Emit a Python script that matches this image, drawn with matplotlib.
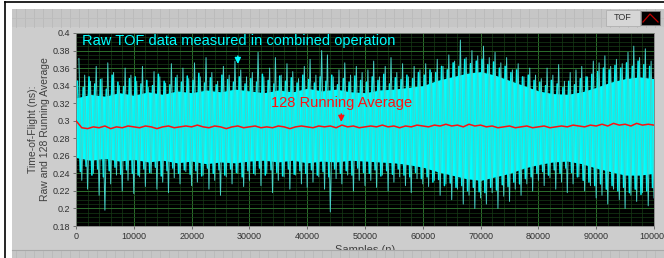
import numpy as np
import matplotlib
matplotlib.use("Agg")
import matplotlib.pyplot as plt
from matplotlib.patches import Rectangle
from matplotlib.lines import Line2D
from matplotlib.ticker import MultipleLocator, FuncFormatter

# ---------------- data ----------------
env_x = np.arange(0, 100001, 2500)
core_hi = [0.326, 0.330, 0.328, 0.332, 0.329, 0.333, 0.330, 0.334, 0.332, 0.335,
           0.333, 0.336, 0.334, 0.332, 0.335, 0.333, 0.337, 0.334, 0.336, 0.333,
           0.332, 0.335, 0.336, 0.338, 0.340, 0.346, 0.350, 0.354, 0.356, 0.352,
           0.346, 0.340, 0.334, 0.331, 0.330, 0.333, 0.338, 0.344, 0.348, 0.350, 0.348]
core_lo = [0.258, 0.255, 0.257, 0.254, 0.256, 0.253, 0.255, 0.252, 0.254, 0.251,
           0.253, 0.252, 0.254, 0.255, 0.253, 0.255, 0.252, 0.254, 0.253, 0.255,
           0.254, 0.253, 0.252, 0.250, 0.247, 0.242, 0.238, 0.234, 0.232, 0.236,
           0.240, 0.246, 0.250, 0.253, 0.254, 0.251, 0.246, 0.242, 0.238, 0.238, 0.240]

# tall spikes of the raw data
raw_hi = [0.371, 0.352, 0.345, 0.362, 0.348, 0.366, 0.355, 0.340, 0.360, 0.352,
          0.345, 0.362, 0.338, 0.356, 0.350, 0.343, 0.365, 0.352, 0.360, 0.348,
          0.366, 0.350, 0.372, 0.355, 0.345, 0.362, 0.352, 0.368, 0.358, 0.350,
          0.355, 0.378, 0.350, 0.360, 0.372, 0.352, 0.365, 0.356, 0.348, 0.362,
          0.370, 0.352, 0.380, 0.375, 0.350, 0.358, 0.366, 0.352, 0.362, 0.355,
          0.358, 0.368, 0.350, 0.362, 0.372, 0.355, 0.365, 0.350, 0.362, 0.358,
          0.365, 0.355, 0.370, 0.362, 0.375, 0.368, 0.392, 0.372, 0.380, 0.374,
          0.385, 0.372, 0.378, 0.366, 0.372, 0.358, 0.365, 0.350, 0.360, 0.352,
          0.348, 0.360, 0.352, 0.364, 0.345, 0.355, 0.358, 0.362, 0.350, 0.368,
          0.366, 0.374, 0.362, 0.370, 0.365, 0.378, 0.385, 0.372, 0.382, 0.368]
raw_lo = [0.232, 0.222, 0.240, 0.215, 0.198, 0.228, 0.238, 0.220, 0.232, 0.217,
          0.236, 0.225, 0.240, 0.222, 0.230, 0.218, 0.235, 0.228, 0.242, 0.226,
          0.230, 0.238, 0.222, 0.232, 0.215, 0.236, 0.228, 0.240, 0.225, 0.232,
          0.238, 0.226, 0.240, 0.218, 0.232, 0.236, 0.222, 0.238, 0.228, 0.224,
          0.230, 0.236, 0.222, 0.196, 0.234, 0.228, 0.238, 0.220, 0.232, 0.226,
          0.232, 0.224, 0.238, 0.220, 0.230, 0.236, 0.226, 0.218, 0.234, 0.228,
          0.225, 0.232, 0.215, 0.228, 0.210, 0.222, 0.205, 0.215, 0.200, 0.212,
          0.205, 0.218, 0.200, 0.214, 0.208, 0.222, 0.215, 0.228, 0.220, 0.232,
          0.226, 0.235, 0.222, 0.230, 0.218, 0.228, 0.236, 0.220, 0.226, 0.212,
          0.215, 0.205, 0.222, 0.210, 0.200, 0.215, 0.208, 0.218, 0.203, 0.212]
raw_hi_x = np.arange(500, 100000, 1000)
raw_lo_x = np.arange(1000, 100001, 1000)

# medium spikes of the raw data
mid_hi = [0.345, 0.338, 0.350, 0.342, 0.347, 0.336, 0.352, 0.344, 0.339, 0.348,
          0.350, 0.342, 0.346, 0.340, 0.353, 0.345, 0.341, 0.349, 0.344, 0.351,
          0.346, 0.354, 0.343, 0.349, 0.341, 0.352, 0.347, 0.344, 0.350, 0.342,
          0.348, 0.344, 0.353, 0.346, 0.342, 0.351, 0.345, 0.349, 0.343, 0.352,
          0.347, 0.343, 0.350, 0.345, 0.352, 0.341, 0.348, 0.344, 0.351, 0.346,
          0.344, 0.350, 0.346, 0.353, 0.342, 0.349, 0.347, 0.352, 0.348, 0.355,
          0.352, 0.358, 0.355, 0.362, 0.358, 0.366, 0.362, 0.370, 0.365, 0.368,
          0.370, 0.364, 0.367, 0.360, 0.362, 0.355, 0.358, 0.350, 0.352, 0.346,
          0.344, 0.340, 0.346, 0.342, 0.338, 0.345, 0.341, 0.348, 0.350, 0.353,
          0.356, 0.360, 0.358, 0.363, 0.360, 0.366, 0.362, 0.368, 0.364, 0.362]
mid_lo = [0.242, 0.248, 0.238, 0.245, 0.236, 0.243, 0.247, 0.239, 0.244, 0.240,
          0.238, 0.245, 0.241, 0.247, 0.237, 0.243, 0.246, 0.240, 0.244, 0.239,
          0.243, 0.237, 0.246, 0.240, 0.244, 0.238, 0.245, 0.241, 0.236, 0.243,
          0.240, 0.246, 0.238, 0.244, 0.241, 0.237, 0.245, 0.239, 0.243, 0.240,
          0.244, 0.238, 0.242, 0.236, 0.245, 0.240, 0.243, 0.238, 0.246, 0.241,
          0.240, 0.244, 0.237, 0.243, 0.239, 0.245, 0.238, 0.236, 0.241, 0.234,
          0.236, 0.230, 0.233, 0.226, 0.229, 0.224, 0.226, 0.220, 0.224, 0.219,
          0.218, 0.224, 0.221, 0.227, 0.225, 0.230, 0.228, 0.234, 0.236, 0.240,
          0.242, 0.238, 0.244, 0.240, 0.246, 0.241, 0.236, 0.232, 0.230, 0.226,
          0.228, 0.222, 0.226, 0.220, 0.224, 0.218, 0.222, 0.216, 0.220, 0.224]
mid_hi_x = np.arange(250, 100000, 1000)
mid_lo_x = np.arange(750, 100000, 1000)

avg_v = [0.300, 0.292, 0.291, 0.293, 0.292, 0.294, 0.291, 0.293, 0.292, 0.294,
         0.293, 0.292, 0.294, 0.293, 0.291, 0.293, 0.294, 0.292, 0.293, 0.294,
         0.293, 0.295, 0.293, 0.292, 0.294, 0.293, 0.291, 0.293, 0.294, 0.292,
         0.293, 0.294, 0.292, 0.293, 0.292, 0.294, 0.293, 0.291, 0.293, 0.294,
         0.293, 0.292, 0.294, 0.293, 0.294, 0.292, 0.295, 0.293, 0.294, 0.292,
         0.293, 0.294, 0.293, 0.295, 0.293, 0.294, 0.292, 0.294, 0.293, 0.295,
         0.294, 0.293, 0.295, 0.294, 0.296, 0.294, 0.295, 0.293, 0.296, 0.294,
         0.295, 0.293, 0.294, 0.292, 0.293, 0.294, 0.292, 0.293, 0.294, 0.292,
         0.293, 0.294, 0.292, 0.293, 0.294, 0.293, 0.295, 0.294, 0.293, 0.295,
         0.294, 0.296, 0.294, 0.297, 0.295, 0.296, 0.294, 0.297, 0.295, 0.296, 0.295]
avg_x = np.arange(0, 100001, 1000)

raw_label = "Raw TOF data measured in combined operation"
avg_label = "128 Running Average"
legend_label = "TOF"
x_label = "Samples (n)"
y_label = "Time-of-Flight (ns):\nRaw and 128 Running Average"

# ---------------- figure ----------------
W, H = 664, 258
fig = plt.figure(figsize=(W / 100, H / 100), dpi=100, facecolor="white")

def fx(px):
    return px / W

def fy(py):
    return 1 - py / H

NARROW = ["Liberation Sans Narrow", "Liberation Sans", "DejaVu Sans"]
SANS = ["Liberation Sans", "DejaVu Sans"]

# panel background
fig.add_artist(Rectangle((fx(12), 0), 1 - fx(12), fy(9), transform=fig.transFigure,
                         facecolor="#cdcdcd", edgecolor="none", zorder=-5))
# title bar texture
fig.add_artist(Rectangle((fx(12), fy(27)), 1 - fx(12), fy(9) - fy(27), transform=fig.transFigure,
                         facecolor="#c6c6c6", edgecolor="none", zorder=-4))
for xp in range(16, 664, 9):
    fig.add_artist(Line2D([fx(xp), fx(xp)], [fy(27), fy(9)], transform=fig.transFigure,
                          color="#b9b9b9", lw=0.6, zorder=-3))
fig.add_artist(Line2D([fx(12), 1], [fy(18), fy(18)], transform=fig.transFigure,
                       color="#bdbdbd", lw=0.6, zorder=-3))
# bottom bar (on top of axis label)
fig.add_artist(Rectangle((fx(12), 0), 1 - fx(12), fy(250), transform=fig.transFigure,
                         facecolor="#c6c6c6", edgecolor="none", zorder=5))
fig.add_artist(Line2D([fx(12), 1], [fy(250), fy(250)], transform=fig.transFigure,
                       color="#a8a8a8", lw=0.8, zorder=6))
for xp in range(16, 664, 9):
    fig.add_artist(Line2D([fx(xp), fx(xp)], [0, fy(251)], transform=fig.transFigure,
                          color="#b9b9b9", lw=0.6, zorder=6))
# outer black border
fig.add_artist(Line2D([fx(5), 1], [fy(2), fy(2)], transform=fig.transFigure,
                       color="black", lw=1.2, zorder=10))
fig.add_artist(Line2D([fx(5), fx(5)], [0, fy(2)], transform=fig.transFigure,
                       color="black", lw=1.2, zorder=10))

# legend box
fig.add_artist(Rectangle((fx(606), fy(26)), fx(34), fy(10) - fy(26), transform=fig.transFigure,
                         facecolor="#d6d6d6", edgecolor="#b0b0b0", lw=0.6, zorder=2))
fig.text(fx(623), fy(18), legend_label, fontsize=6.5, color="#303030",
         family=NARROW, ha="center", va="center", zorder=3)
fig.add_artist(Rectangle((fx(641), fy(25)), fx(19), fy(11) - fy(25), transform=fig.transFigure,
                         facecolor="black", edgecolor="#808080", lw=0.6, zorder=2))
fig.add_artist(Line2D([fx(643), fx(650), fx(658)], [fy(22), fy(14), fy(22)], transform=fig.transFigure,
                       color="#c00000", lw=0.9, zorder=3))

# axes
ax = fig.add_axes([fx(76), fy(226), fx(654) - fx(76), fy(33) - fy(226)])
ax.set_facecolor("black")
ax.set_xlim(0, 100000)
ax.set_ylim(0.18, 0.4)

ax.xaxis.set_major_locator(MultipleLocator(10000))
ax.xaxis.set_minor_locator(MultipleLocator(2000))
ax.yaxis.set_major_locator(MultipleLocator(0.02))
ax.yaxis.set_minor_locator(MultipleLocator(0.005))
ax.grid(which="minor", color="#163a16", lw=0.5)
ax.grid(which="major", color="#2c6e2c", lw=0.7)
ax.set_axisbelow(True)

ax.yaxis.set_major_formatter(FuncFormatter(lambda v, p: f"{round(v, 2):g}"))
ax.xaxis.set_major_formatter(FuncFormatter(lambda v, p: f"{int(round(v))}"))
ax.tick_params(which="major", length=2.5, width=0.6, color="#606060", labelsize=6.5,
               labelcolor="#303030", pad=1.5)
ax.tick_params(which="minor", length=0)
for lab in ax.get_xticklabels() + ax.get_yticklabels():
    lab.set_family(NARROW)
for s in ax.spines.values():
    s.set_color("#808080")
    s.set_linewidth(0.6)

# raw data: dense core + medium spikes + tall spikes
ax.fill_between(env_x, core_lo, core_hi, color="#00ffff", lw=0, zorder=2)

mz_x = np.empty(200)
mz_v = np.empty(200)
mz_x[0::2] = mid_hi_x
mz_x[1::2] = mid_lo_x
mz_v[0::2] = mid_hi
mz_v[1::2] = mid_lo
ax.plot(mz_x, mz_v, color="#00f4f4", lw=1.1, zorder=3)

zz_x = np.empty(200)
zz_v = np.empty(200)
zz_x[0::2] = raw_hi_x
zz_x[1::2] = raw_lo_x
zz_v[0::2] = raw_hi
zz_v[1::2] = raw_lo
ax.plot(zz_x, zz_v, color="#48d0c8", lw=0.7, zorder=3)

# running average
ax.plot(avg_x, avg_v, color="#ff1010", lw=1.1, zorder=4)

# annotations
ax.text(1000, 0.391, raw_label, color="#00ffff", fontsize=10.5,
        family=SANS, ha="left", va="center", zorder=6)
ax.annotate("", xy=(28000, 0.3615), xytext=(28000, 0.377),
            arrowprops=dict(arrowstyle="-|>", color="#00ffff", lw=1.0, mutation_scale=9), zorder=6)
ax.text(33700, 0.320, avg_label, color="#ff1010", fontsize=10.5,
        family=SANS, ha="left", va="center", zorder=6)
ax.annotate("", xy=(45900, 0.2955), xytext=(45900, 0.311),
            arrowprops=dict(arrowstyle="-|>", color="#ff1010", lw=1.0, mutation_scale=9), zorder=6)

ax.set_xlabel(x_label, fontsize=8, color="#404040", family=SANS, labelpad=3)
ax.set_ylabel(y_label, fontsize=7.5, color="#404040", family=SANS, labelpad=2, linespacing=1.3)

fig.savefig("out.png", dpi=100, facecolor="white")
